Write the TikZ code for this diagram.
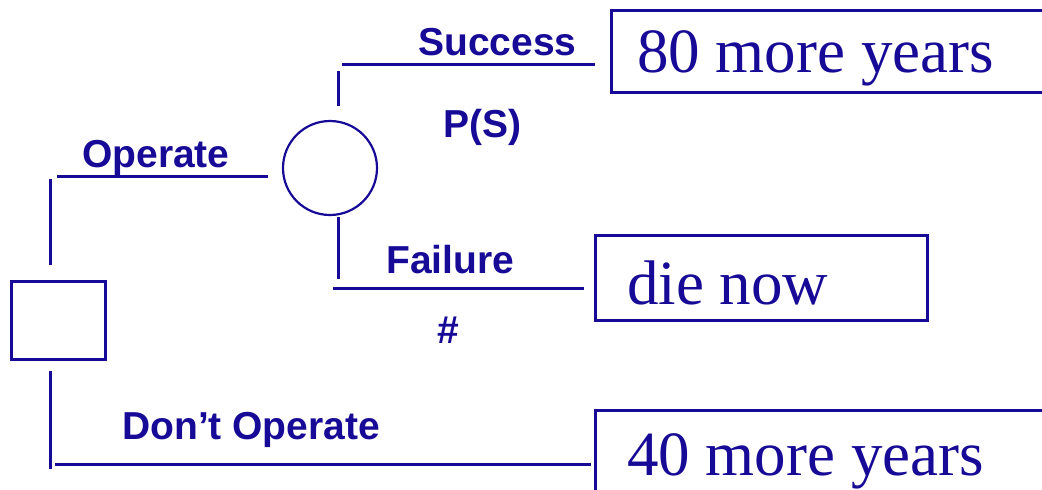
\documentclass[tikz,border=0pt]{standalone}
\usepackage{fontspec}
\setmainfont{Liberation Serif}
\newfontfamily\lblfont{Liberation Sans}
\definecolor{ink}{RGB}{22,10,150}
\begin{document}
\begin{tikzpicture}[x=1pt,y=-1pt,
  line/.style={draw=ink,line width=3pt},
  lbl/.style={anchor=base west,inner sep=0pt,text=ink,font=\lblfont\bfseries\fontsize{39}{42}\selectfont},
  outc/.style={anchor=base west,inner sep=0pt,text=ink,font=\fontsize{63}{70}\selectfont},
  box/.style={draw=ink,line width=3pt,rectangle,inner sep=0pt}]
\useasboundingbox (0,0) rectangle (1042,490);
\clip (0,0) rectangle (1042,490);
% decision and chance nodes
\node[box,minimum width=94pt,minimum height=78pt] (dec) at (58,320) {};
\node[draw=ink,line width=2.2pt,circle,minimum size=94pt,inner sep=0pt] (chance) at (330,168) {};
% outcome boxes
\node[box,anchor=north west,minimum width=600pt,minimum height=82pt] (b1) at (610,9) {};
\node[box,anchor=north west,minimum width=332pt,minimum height=85pt] (b2) at (594,234) {};
\node[box,anchor=north west,minimum width=600pt,minimum height=120pt] (b3) at (594,409) {};
% connector end points
\coordinate (v1a) at (50,179); \coordinate (v1b) at (50,265);
\coordinate (opa) at (57,176); \coordinate (opb) at (268,176);
\coordinate (v2a) at (338,71); \coordinate (v2b) at (338,106);
\coordinate (sua) at (342,64); \coordinate (sub) at (595,64);
\coordinate (v3a) at (338,217); \coordinate (v3b) at (338,279);
\coordinate (faa) at (333,288); \coordinate (fab) at (584,288);
\coordinate (v4a) at (50,371); \coordinate (v4b) at (50,469);
\coordinate (doa) at (55,464); \coordinate (dob) at (591,464);
\draw[line] (v1a) -- (v1b);
\draw[line] (opa) -- (opb);
\draw[line] (v2a) -- (v2b);
\draw[line] (sua) -- (sub);
\draw[line] (v3a) -- (v3b);
\draw[line] (faa) -- (fab);
\draw[line] (v4a) -- (v4b);
\draw[line] (doa) -- (dob);
% labels
\node[lbl] (lsuc) at (418,55) {Success};
\node[lbl] (lps) at (443,137) {P(S)};
\node[lbl] (lfail) at (386,273) {Failure};
\node[lbl] (lhash) at (437,343) {\#};
\node[lbl] (lop) at (82,167) {Operate};
\node[lbl] (ldon) at (122,439) {Don’t Operate};
% outcome texts
\node[outc] (t1) at (637,72) {80 more years};
\node[outc] (t2) at (627,304) {die now};
\node[outc] (t3) at (627,475) {40 more years};
\end{tikzpicture}
\end{document}
